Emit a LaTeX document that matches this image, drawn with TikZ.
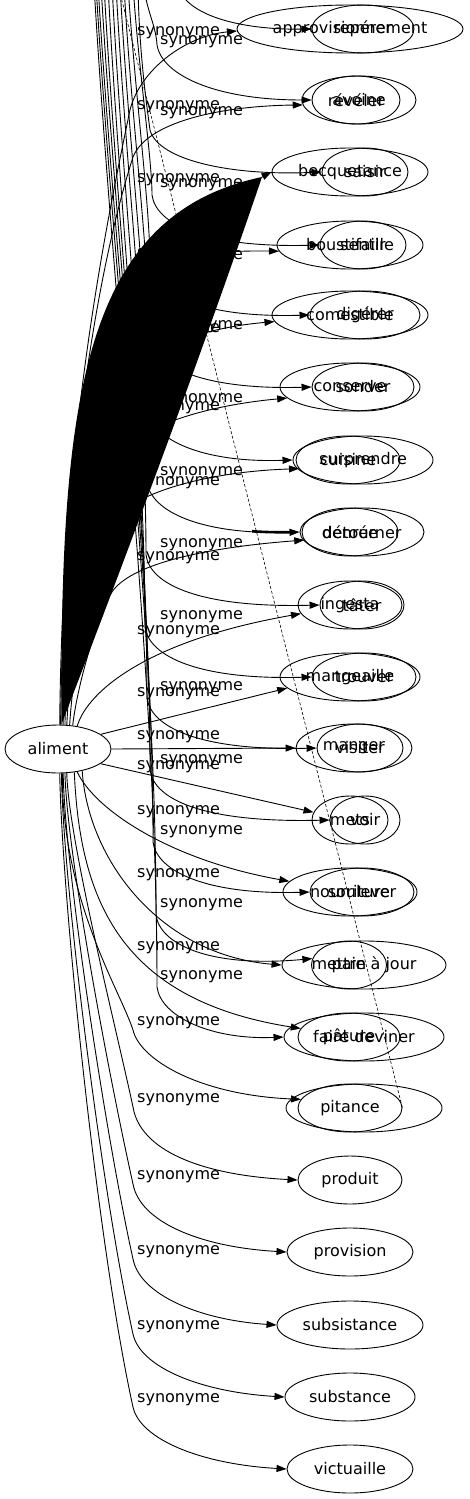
\documentclass[tikz,border=0pt]{standalone}
\usepackage{fontspec}
\setmainfont{DejaVu Sans}
\usetikzlibrary{arrows.meta,shapes.geometric}
\tikzset{
  word/.style={ellipse, draw, line width=0.9pt, inner sep=0pt, minimum height=48pt, minimum width=#1, font=\fontsize{16pt}{19pt}\selectfont},
  lab/.style={anchor=west, inner sep=0pt, font=\fontsize{16pt}{19pt}\selectfont},
  link/.style={line width=0.9pt, -{Triangle[length=10pt,width=7pt]}},
  dashlink/.style={line width=0.6pt, dash pattern=on 3pt off 2pt},
}
\begin{document}
\begin{tikzpicture}[x=1pt,y=-1pt]
\clip (0,0) rectangle (469,1499);
\fill[white] (0,0) rectangle (469,1499);
% source
\node[word=106pt] (aliment) at (58,749) {aliment};
% targets
\node[word=226pt] (a1) at (350,29) {approvisionnement};
\node[word=102pt] (b1) at (363,29) {repérer};
\node[word=114pt] (a2) at (359,100) {avoine};
\node[word=88pt] (b2) at (356,100) {révéler};
\node[word=156pt] (a3) at (350,172) {becquetance};
\node[word=86pt] (b3) at (365,172) {saisir};
\node[word=146pt] (a4) at (350,245) {boustifaille};
\node[word=86pt] (b4) at (363,245) {sentir};
\node[word=156pt] (a5) at (350,315) {comestible};
\node[word=110pt] (b5) at (365,315) {digérer};
\node[word=140pt] (a6) at (350,387) {conserve};
\node[word=102pt] (b6) at (363,387) {sonder};
\node[word=104pt] (a7) at (348,460) {cuisine};
\node[word=140pt] (b7) at (363,460) {surprendre};
\node[word=96pt] (a8) at (350,532) {denrée};
\node[word=124pt] (b8) at (362,532) {détourner};
\node[word=104pt] (a9) at (350,605) {ingesta};
\node[word=84pt] (b9) at (362,605) {tâter};
\node[word=140pt] (a10) at (350,677) {mangeaille};
\node[word=104pt] (b10) at (364,677) {trouver};
\node[word=116pt] (a11) at (354,748) {manger};
\node[word=86pt] (b11) at (360,748) {visiter};
\node[word=76pt] (a12) at (350,820) {mets};
\node[word=70pt] (b12) at (365,820) {voir};
\node[word=134pt] (a13) at (350,892) {nourriture};
\node[word=104pt] (b13) at (362,892) {soulever};
\node[word=164pt] (a14) at (364,965) {mettre à jour};
\node[word=75pt] (b14) at (349,965) {pain};
\node[word=102pt] (a15) at (349,1037) {pâture};
\node[word=160pt] (b15) at (364,1037) {faire deviner};
\node[word=104pt] (a16) at (350,1108) {pitance};
\node[word=156pt] (b16) at (364,1108) {};
\node[word=104pt] (a17) at (350,1180) {produit};
\node[word=126pt] (a18) at (350,1252) {provision};
\node[word=146pt] (a19) at (350,1325) {subsistance};
\node[word=130pt] (a20) at (350,1397) {substance};
\node[word=126pt] (a21) at (350,1469) {victuaille};

% free ends of the second fan (its source lies above the picture)
\coordinate (t1) at (178,-15);
\coordinate (t2) at (144,-15);
\coordinate (t3) at (138,-15);
\coordinate (t4) at (133,-15);
\coordinate (t5) at (128,-15);
\coordinate (t6) at (124,-15);
\coordinate (t7) at (120,-15);
\coordinate (t8) at (116,-15);
\coordinate (t9) at (112,-15);
\coordinate (t10) at (108,-15);
\coordinate (t11) at (104,-15);
\coordinate (t12) at (101,-15);
\coordinate (t13) at (98,-15);
\coordinate (t14) at (96,-15);
\coordinate (t15) at (94,-15);
\coordinate (t16) at (118,-15);
\coordinate (apex) at (262,177);

% second fan edges
\draw[link] (t1) .. controls (184,15) and (240,30) .. (b1.west);
\draw[link] (t2) .. controls (146,10) and (156,25) .. (157,45) .. controls (162,75) and (215,100) .. (b2.west);
\draw[link] (t3) .. controls (139,50) and (146,100) .. (150,130) .. controls (158,160) and (230,176) .. (b3.west);
\draw[link] (t4) .. controls (139,74) and (152,159) .. (152,195) .. controls (156,225) and (207,248) .. (b4.west);
\draw[link] (t5) .. controls (135,95) and (150,205) .. (150,265) .. controls (154,295) and (205,318) .. (b5.west);
\draw[link] (t6) .. controls (131,116) and (149,252) .. (149,337) .. controls (153,367) and (204,390) .. (b6.west);
\draw[link] (t7) .. controls (128,138) and (148,299) .. (148,410) .. controls (152,440) and (203,463) .. (b7.west);
\draw[link] (t8) .. controls (125,160) and (147,346) .. (147,482) .. controls (151,512) and (202,535) .. (b8.west);
\begin{scope}
  \clip (252,522) rectangle (292,545);
  \draw[line width=2.6pt] (147,482) .. controls (151,512) and (202,535) .. (b8.west);
\end{scope}
\draw[link] (t9) .. controls (122,182) and (146,393) .. (146,555) .. controls (150,585) and (201,608) .. (b9.west);
\draw[link] (t10) .. controls (119,203) and (145,440) .. (145,627) .. controls (149,657) and (200,680) .. (b10.west);
\draw[link] (t11) .. controls (117,224) and (147,486) .. (147,698) .. controls (151,728) and (202,751) .. (b11.west);
\draw[link] (t12) .. controls (116,246) and (150,533) .. (150,770) .. controls (154,800) and (205,823) .. (b12.west);
\draw[link] (t13) .. controls (115,268) and (153,580) .. (153,842) .. controls (157,872) and (208,895) .. (b13.west);
\draw[link] (t14) .. controls (114,290) and (156,627) .. (156,915) .. controls (160,945) and (211,968) .. (b14.170);
\draw[link] (t15) .. controls (113,311) and (157,674) .. (157,987) .. controls (161,1017) and (212,1040) .. (b15.west);
\draw[dashlink] (t16) -- (a16.east);

% aliment edges
\draw[link] (aliment.86) .. controls (62,440) and (105,230) .. (130,110) .. controls (140,70) and (185,36) .. (a1.181);
\draw[link] (aliment.84) .. controls (64,460) and (100,260) .. (133,157) .. controls (147,122) and (220,106) .. (a2.185);
\draw[link] (aliment.78) .. controls (66,500) and (95,330) .. (125,290) .. controls (150,258) and (210,250) .. (a4.185);
\draw[link] (aliment.74) .. controls (68,560) and (95,420) .. (115,390) .. controls (140,350) and (200,328) .. (a5.185);
\draw[link] (aliment.70) .. controls (72,620) and (100,490) .. (120,455) .. controls (140,425) and (210,405) .. (a6.190);
\draw[link] (aliment.64) .. controls (75,640) and (100,540) .. (117,517) .. controls (135,495) and (200,472) .. (a7.190);
\draw[link] (aliment.58) .. controls (78,680) and (100,610) .. (112,592) .. controls (130,565) and (200,548) .. (a8.190);
\draw[link] (aliment.50) .. controls (88,690) and (150,640) .. (a9.190);
\draw[link] (aliment.19) -- (a10.190);
\draw[link] (aliment.east) -- (a11.west);
\draw[link] (aliment.-19) -- (a12.168);
\draw[link] (aliment.-50) .. controls (95,810) and (170,860) .. (a13.170);
\draw[link] (aliment.-42) .. controls (88,860) and (160,955) .. (a14.west);
\draw[link] (aliment.-55) .. controls (80,900) and (120,1000) .. (a15.170);
\draw[link] (aliment.-80) .. controls (62,900) and (120,990) .. (133,1030) .. controls (140,1060) and (200,1095) .. (a16.170);
\draw[link] (aliment.-70) .. controls (68.5,840) and (115,1023) .. (133,1107) .. controls (140,1150) and (200,1175) .. (a17.west);
\draw[link] (aliment.-74) .. controls (67,855) and (110,1081) .. (133,1184) .. controls (140,1222) and (200,1247) .. (a18.west);
\draw[link] (aliment.-78) .. controls (65,870) and (106,1137) .. (133,1259) .. controls (140,1295) and (200,1320) .. (a19.west);
\draw[link] (aliment.-82) .. controls (63,885) and (102,1194) .. (133,1334) .. controls (140,1367) and (200,1392) .. (a20.west);
\draw[link] (aliment.-86) .. controls (62,900) and (98,1249) .. (133,1407) .. controls (140,1439) and (200,1464) .. (a21.west);

% labels of the aliment edges
\node[lab] (la1) at (137,33) {synonyme};
\node[lab] (la2) at (137,107) {synonyme};
\node[lab] (la3) at (137,180) {synonyme};
\node[lab] (la4) at (137,255) {synonyme};
\node[lab] (la5) at (137,330) {synonyme};
\node[lab] (la6) at (137,408) {synonyme};
\node[lab] (la7) at (137,483) {synonyme};
\node[lab] (la8) at (137,558) {synonyme};
\node[lab] (la9) at (137,632) {synonyme};
\node[lab] (la10) at (137,694) {synonyme};
\node[lab] (la11) at (137,737) {synonyme};
\node[lab] (la12) at (137,767) {synonyme};
\node[lab] (la13) at (137,812) {synonyme};
\node[lab] (la14) at (137,875) {synonyme};
\node[lab] (la15) at (137,948) {synonyme};
\node[lab] (la16) at (137,1023) {synonyme};
\node[lab] (la17) at (137,1100) {synonyme};
\node[lab] (la18) at (137,1177) {synonyme};
\node[lab] (la19) at (137,1252) {synonyme};
\node[lab] (la20) at (137,1327) {synonyme};
\node[lab] (la21) at (137,1400) {synonyme};
% labels of the second fan
\node[lab] (lb1) at (160,42) {synonyme};
\node[lab] (lb2) at (160,113) {synonyme};
\node[lab] (lb3) at (160,185) {synonyme};
\node[lab] (lb4) at (160,257) {synonyme};
\node[lab] (lb5) at (160,327) {synonyme};
\node[lab] (lb6) at (160,400) {synonyme};
\node[lab] (lb7) at (160,473) {synonyme};
\node[lab] (lb8) at (160,545) {synonyme};
\node[lab] (lb9) at (160,617) {synonyme};
\node[lab] (lb10) at (160,688) {synonyme};
\node[lab] (lb11) at (160,761) {synonyme};
\node[lab] (lb12) at (160,832) {synonyme};
\node[lab] (lb13) at (160,905) {synonyme};
\node[lab] (lb14) at (160,977) {synonyme};

% the filled edge towards becquetance
\fill (aliment.82) .. controls (60,400) and (82,215) .. (apex) .. controls (210,330) and (140,520) .. (aliment.82) -- cycle;
\draw[link] (apex) -- (a3.west);
\end{tikzpicture}
\end{document}
